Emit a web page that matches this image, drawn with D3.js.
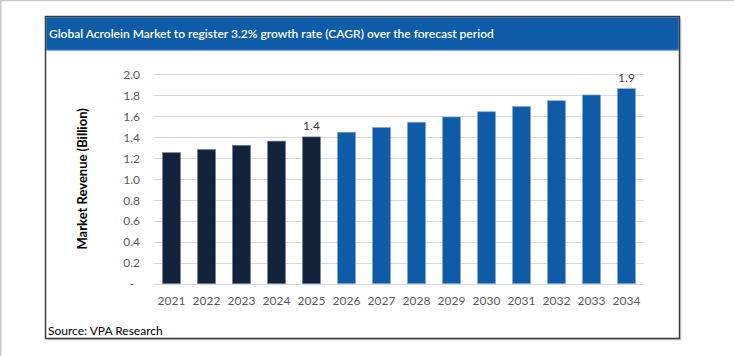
<!DOCTYPE html>
<html>
<head>
<meta charset="utf-8">
<script src="https://cdn.jsdelivr.net/npm/d3@7"></script>
<style>
  html, body { margin: 0; padding: 0; background: #fff; }
  svg { display: block; }
  text { font-family: Lato, "Open Sans", sans-serif; }
</style>
</head>
<body>
<svg id="chart" width="734" height="356"></svg>
<script>
const titleText = "Global Acrolein Market to register 3.2% growth rate (CAGR) over the forecast period";
const sourceText = "Source: VPA Research";
const yAxisTitle = "Market Revenue (Billion)";
const years = ["2021","2022","2023","2024","2025","2026","2027","2028","2029","2030","2031","2032","2033","2034"];
const revenue = [1.25, 1.28, 1.32, 1.36, 1.40, 1.445, 1.49, 1.54, 1.59, 1.64, 1.69, 1.745, 1.80, 1.86];
const historicYears = ["2021","2022","2023","2024","2025"];
const labelledYears = {"2025": "1.4", "2034": "1.9"};
const yTicks = [0, 0.2, 0.4, 0.6, 0.8, 1.0, 1.2, 1.4, 1.6, 1.8, 2.0];

const svg = d3.select("#chart");

// outer page frame
svg.append("line").attr("x1",0).attr("x2",734).attr("y1",0.5).attr("y2",0.5).attr("stroke","#c8c8c8").attr("stroke-width",1.5);
svg.append("line").attr("x1",0.75).attr("x2",0.75).attr("y1",0).attr("y2",356).attr("stroke","#c8c8c8").attr("stroke-width",1.5);

// chart box
const box = {x: 45.5, y: 16.5, w: 634, h: 322};
svg.append("rect").attr("x", box.x + 2).attr("y", box.y + 2).attr("width", box.w).attr("height", box.h).attr("fill", "#d9d9d9");
svg.append("rect").attr("x", box.x).attr("y", box.y).attr("width", box.w).attr("height", box.h)
  .attr("fill", "#fff").attr("stroke", "#3a3a3a").attr("stroke-width", 1.5);
svg.append("rect").attr("x", box.x + 0.75).attr("y", box.y + 0.75).attr("width", box.w - 1.5).attr("height", 33)
  .attr("fill", "#0e5ca8");
svg.append("line").attr("x1", box.x + 0.75).attr("x2", box.x + box.w - 0.75).attr("y1", 50).attr("y2", 50)
  .attr("stroke", "#3f7fc0").attr("stroke-width", 1);

svg.append("text").attr("x", 49).attr("y", 37.5).attr("fill", "#fff")
  .attr("font-size", 12).attr("font-weight", 600).text(titleText);

svg.append("text").attr("x", 48).attr("y", 335).attr("fill", "#000")
  .attr("font-size", 12).text(sourceText);

// plot
const x = d3.scaleBand().domain(years).range([154, 644]).paddingInner(0.486).paddingOuter(0.243);
const y = d3.scaleLinear().domain([0, 2]).range([283.7, 74]);

const grid = svg.append("g");
grid.selectAll("line").data(yTicks).join("line")
  .attr("x1", 154).attr("x2", 644)
  .attr("y1", d => Math.round(y(d)) + 0.5).attr("y2", d => Math.round(y(d)) + 0.5)
  .attr("stroke", "#d9d9d9").attr("stroke-width", 1);

const yAxis = d3.axisLeft(y).tickValues(yTicks).tickSize(0).tickPadding(0)
  .tickFormat(d => d === 0 ? "-" : d3.format(".1f")(d));
const gy = svg.append("g").attr("transform", "translate(140,0)").call(yAxis);
gy.select(".domain").remove();
gy.selectAll("text").attr("font-family", "Lato, sans-serif").attr("font-size", 12).attr("fill", "#595959")
  .attr("dy", "0.35em");
gy.selectAll(".tick").filter(d => d === 0).select("text").attr("dx", -6);

const xAxis = d3.axisBottom(x).tickSize(0).tickPadding(0);
const gx = svg.append("g").attr("transform", "translate(0,296)").call(xAxis);
gx.select(".domain").remove();
gx.selectAll("text").attr("font-family", "Lato, sans-serif").attr("font-size", 12).attr("fill", "#595959");

svg.append("g").selectAll("rect").data(years).join("rect")
  .attr("x", d => x(d)).attr("width", x.bandwidth())
  .attr("y", (d, i) => y(revenue[i])).attr("height", (d, i) => y(0) - y(revenue[i]))
  .attr("fill", d => historicYears.includes(d) ? "#13233d" : "#0e5ca8")
  .attr("stroke", d => historicYears.includes(d) ? "#6f7f96" : "#7ea8d6").attr("stroke-width", 0.6);

svg.append("g").selectAll("text").data(years.filter(d => labelledYears[d])).join("text")
  .attr("x", d => x(d) + x.bandwidth() / 2)
  .attr("y", d => y(revenue[years.indexOf(d)]) - 7)
  .attr("text-anchor", "middle").attr("font-size", 12).attr("fill", "#404040")
  .text(d => labelledYears[d]);

svg.append("text")
  .attr("transform", `translate(87,${(y(0) + y(2)) / 2}) rotate(-90)`)
  .attr("text-anchor", "middle").attr("font-size", 13).attr("font-weight", 700).attr("fill", "#000")
  .text(yAxisTitle);
</script>
</body>
</html>
